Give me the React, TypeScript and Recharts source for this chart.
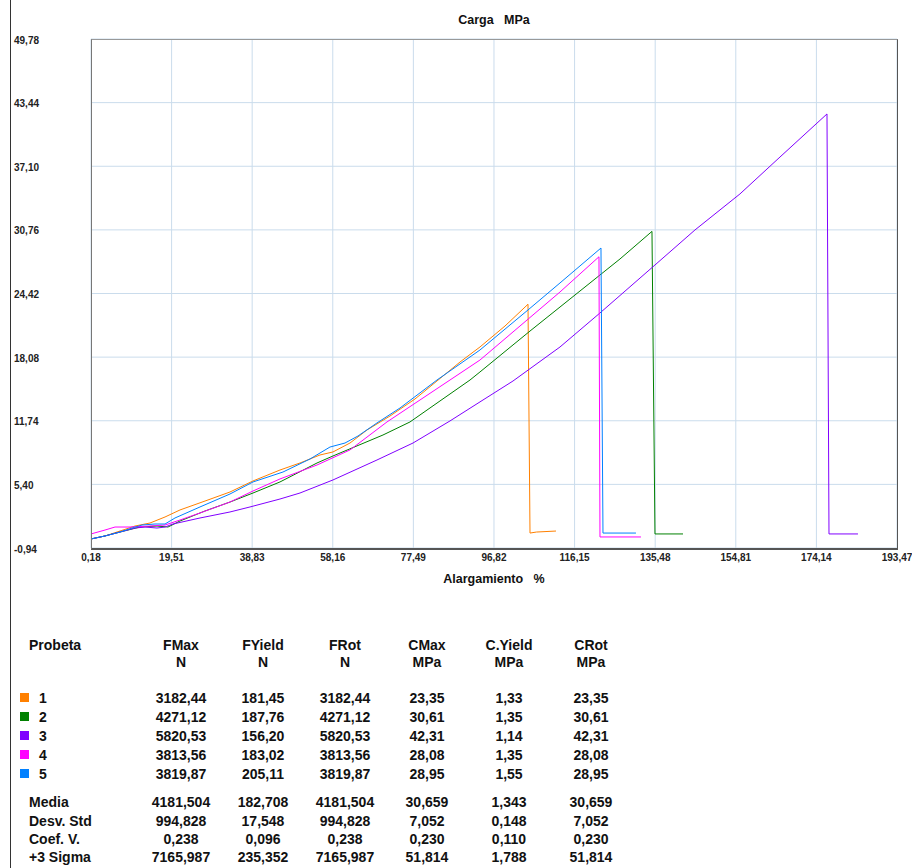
import { LineChart, Line, XAxis, YAxis, CartesianGrid } from "recharts";

const X_TICKS = [0.18, 19.51, 38.83, 58.16, 77.49, 96.82, 116.15, 135.48, 154.81, 174.14, 193.47];
const Y_TICKS = [-0.94, 5.4, 11.74, 18.08, 24.42, 30.76, 37.1, 43.44, 49.78];

const PROBETA_1: [number, number][] = [
  [0.18, -0.04], [3.54, 0.26], [7.13, 0.75], [10.73, 1.25], [14.33, 1.55], [17.93, 2.15],
  [21.52, 2.85], [27.52, 3.74], [33.51, 4.64], [39.03, 5.74], [45.5, 6.83], [50.3, 7.53],
  [55.1, 8.33], [58.21, 8.63], [62.29, 9.52], [66.37, 10.82], [71.88, 12.21], [77.88, 13.91],
  [83.15, 15.7], [88.67, 17.59], [93.46, 19.09], [99.46, 21.18], [104.98, 23.35],
  [105.46, 0.55], [107.0, 0.65], [111.69, 0.75],
];

const PROBETA_2: [number, number][] = [
  [0.18, -0.04], [3.54, 0.26], [7.13, 0.65], [11.93, 1.15], [16.01, 1.25], [18.65, 1.15],
  [21.52, 1.75], [27.52, 2.75], [33.51, 3.64], [39.03, 4.54], [45.5, 5.64], [54.38, 7.53],
  [58.21, 8.23], [70.2, 10.32], [76.68, 11.62], [83.87, 13.71], [91.07, 15.8], [93.46, 16.6],
  [105.46, 20.68], [117.45, 24.67], [127.04, 27.86], [134.71, 30.61],
  [135.43, 0.46], [142.15, 0.46],
];

const PROBETA_3: [number, number][] = [
  [0.18, -0.04], [3.54, 0.26], [7.13, 0.65], [10.73, 1.05], [13.13, 1.15], [16.01, 1.05],
  [17.93, 1.15], [19.84, 1.45], [26.32, 2.05], [33.51, 2.65], [38.31, 3.15], [45.5, 3.94],
  [50.3, 4.54], [58.21, 5.84], [68.76, 7.83], [77.4, 9.52], [86.27, 11.72], [94.19, 13.81],
  [101.38, 15.7], [112.65, 19.09], [122.24, 22.48], [135.43, 27.26], [145.02, 30.75],
  [155.81, 34.34], [165.41, 38.02], [176.68, 42.31],
  [177.16, 0.46], [184.11, 0.46],
];

const PROBETA_4: [number, number][] = [
  [0.18, 0.46], [3.54, 0.85], [5.94, 1.15], [9.53, 1.15], [14.33, 1.25], [17.93, 1.35],
  [21.52, 1.85], [26.32, 2.55], [33.51, 3.64], [39.03, 4.74], [45.5, 5.94], [54.38, 7.33],
  [62.29, 8.83], [71.16, 11.62], [79.08, 13.81], [86.27, 15.8], [93.46, 17.79],
  [103.06, 21.18], [112.65, 24.57], [122.0, 28.08],
  [122.24, 0.16], [132.07, 0.16],
];

const PROBETA_5: [number, number][] = [
  [0.18, -0.04], [3.54, 0.26], [7.13, 0.65], [10.01, 1.05], [12.41, 1.35], [15.53, 1.45],
  [17.93, 1.45], [20.32, 2.05], [26.32, 3.15], [33.51, 4.44], [39.03, 5.64], [46.22, 6.63],
  [52.7, 7.93], [57.49, 9.12], [61.09, 9.52], [64.21, 10.22], [68.76, 11.52], [74.28, 13.01],
  [83.15, 15.8], [93.46, 18.79], [104.98, 22.78], [112.65, 25.47], [122.48, 28.95],
  [122.96, 0.55], [130.87, 0.55],
];

const PROBETAS = ["1", "2", "3", "4", "5"];
const COLORS = ["#FF8000", "#008000", "#8000FF", "#FF00FF", "#0080FF"];
const CURVES = [PROBETA_1, PROBETA_2, PROBETA_3, PROBETA_4, PROBETA_5];

// tabla de resultados
const HEADERS = [["FMax", "N"], ["FYield", "N"], ["FRot", "N"], ["CMax", "MPa"], ["C.Yield", "MPa"], ["CRot", "MPa"]];
const FMAX = [3182.44, 4271.12, 5820.53, 3813.56, 3819.87];
const FYIELD = [181.45, 187.76, 156.2, 183.02, 205.11];
const FROT = [3182.44, 4271.12, 5820.53, 3813.56, 3819.87];
const CMAX = [23.35, 30.61, 42.31, 28.08, 28.95];
const CYIELD = [1.33, 1.35, 1.14, 1.35, 1.55];
const CROT = [23.35, 30.61, 42.31, 28.08, 28.95];

const STAT_NAMES = ["Media", "Desv. Std", "Coef. V.", "+3 Sigma"];
const STAT_FMAX = [4181.504, 994.828, 0.238, 7165.987];
const STAT_FYIELD = [182.708, 17.548, 0.096, 235.352];
const STAT_FROT = [4181.504, 994.828, 0.238, 7165.987];
const STAT_CMAX = [30.659, 7.052, 0.23, 51.814];
const STAT_CYIELD = [1.343, 0.148, 0.11, 1.788];
const STAT_CROT = [30.659, 7.052, 0.23, 51.814];

const FONT = "'Liberation Sans', Arial, sans-serif";
const fmt = (v: number, d: number) => v.toFixed(d).replace(".", ",");

const COL_X = [181, 263, 345, 427, 509, 591];
const ROW_Y = [698, 717, 736, 755, 774];
const STAT_Y = [802, 821, 839, 857];

function XTick(props: any) {
  const { x, payload } = props;
  return (
    <text x={x} y={561} textAnchor="middle" fontSize={10} fontWeight="bold" fill="#222" fontFamily={FONT}>
      {fmt(payload.value, 2)}
    </text>
  );
}

function YTick(props: any) {
  const { y, payload } = props;
  return (
    <text x={14} y={y + 4.5} textAnchor="start" fontSize={10} fontWeight="bold" fill="#222" fontFamily={FONT}>
      {fmt(payload.value, 2)}
    </text>
  );
}

function Txt({ x, y, children, align = "center" }: { x: number; y: number; children: any; align?: string }) {
  const left = align === "center" ? x - 60 : x;
  return (
    <div
      style={{
        position: "absolute",
        left,
        top: y - 9,
        width: align === "center" ? 120 : 200,
        lineHeight: "18px",
        textAlign: align as any,
        fontSize: 14,
        fontWeight: "bold",
        color: "#111",
        whiteSpace: "pre",
      }}
    >
      {children}
    </div>
  );
}

export default function App() {
  const cols = [FMAX, FYIELD, FROT, CMAX, CYIELD, CROT];
  const statCols = [STAT_FMAX, STAT_FYIELD, STAT_FROT, STAT_CMAX, STAT_CYIELD, STAT_CROT];
  return (
    <div style={{ position: "absolute", left: 0, top: 0, width: 912, height: 868, background: "#fff", fontFamily: FONT }}>
      <div style={{ position: "absolute", left: 10, top: 0, width: 1, height: 868, background: "#333" }} />
      <div
        style={{
          position: "absolute", left: 0, top: 13, width: 988, textAlign: "center",
          fontSize: 12.5, fontWeight: "bold", whiteSpace: "pre", color: "#111",
        }}
      >
        {"Carga   MPa"}
      </div>
      <LineChart width={912} height={600} margin={{ top: 39, right: 15, bottom: 22, left: 10 }}>
        <CartesianGrid stroke="#cadcec" fill="none" />
        <XAxis
          type="number"
          dataKey="x"
          domain={[0.18, 193.47]}
          ticks={X_TICKS}
          interval={0}
          allowDataOverflow
          axisLine={false}
          tickLine={false}
          height={30}
          tick={<XTick />}
        />
        <YAxis
          type="number"
          dataKey="y"
          domain={[-0.94, 49.78]}
          ticks={Y_TICKS}
          interval={0}
          allowDataOverflow
          axisLine={false}
          tickLine={false}
          width={81}
          tick={<YTick />}
        />
        {CURVES.map((pts, i) => (
          <Line
            key={PROBETAS[i]}
            data={pts.map(([x, y]) => ({ x, y }))}
            dataKey="y"
            type="linear"
            stroke={COLORS[i]}
            strokeWidth={1}
            dot={false}
            isAnimationActive={false}
          />
        ))}
      </LineChart>
      <div
        style={{
          position: "absolute", left: 91, top: 39, width: 805, height: 508,
          borderTop: "1px solid #999", borderLeft: "1px solid #777",
          borderRight: "1px solid #555", borderBottom: "2px solid #555",
        }}
      />
      <div
        style={{
          position: "absolute", left: 0, top: 572, width: 988, textAlign: "center",
          fontSize: 12.5, fontWeight: "bold", whiteSpace: "pre", color: "#111",
        }}
      >
        {"Alargamiento   %"}
      </div>

      <Txt x={29} y={645} align="left">Probeta</Txt>
      {HEADERS.map(([a, b], j) => (
        <div key={a}>
          <Txt x={COL_X[j]} y={645}>{a}</Txt>
          <Txt x={COL_X[j]} y={662}>{b}</Txt>
        </div>
      ))}
      {PROBETAS.map((p, i) => (
        <div key={p}>
          <div style={{ position: "absolute", left: 20, top: ROW_Y[i] - 5, width: 9, height: 9, background: COLORS[i] }} />
          <Txt x={39} y={ROW_Y[i]} align="left">{p}</Txt>
          {cols.map((c, j) => (
            <Txt key={j} x={COL_X[j]} y={ROW_Y[i]}>{fmt(c[i], 2)}</Txt>
          ))}
        </div>
      ))}
      {STAT_NAMES.map((s, i) => (
        <div key={s}>
          <Txt x={29} y={STAT_Y[i]} align="left">{s}</Txt>
          {statCols.map((c, j) => (
            <Txt key={j} x={COL_X[j]} y={STAT_Y[i]}>{fmt(c[i], 3)}</Txt>
          ))}
        </div>
      ))}
    </div>
  );
}
